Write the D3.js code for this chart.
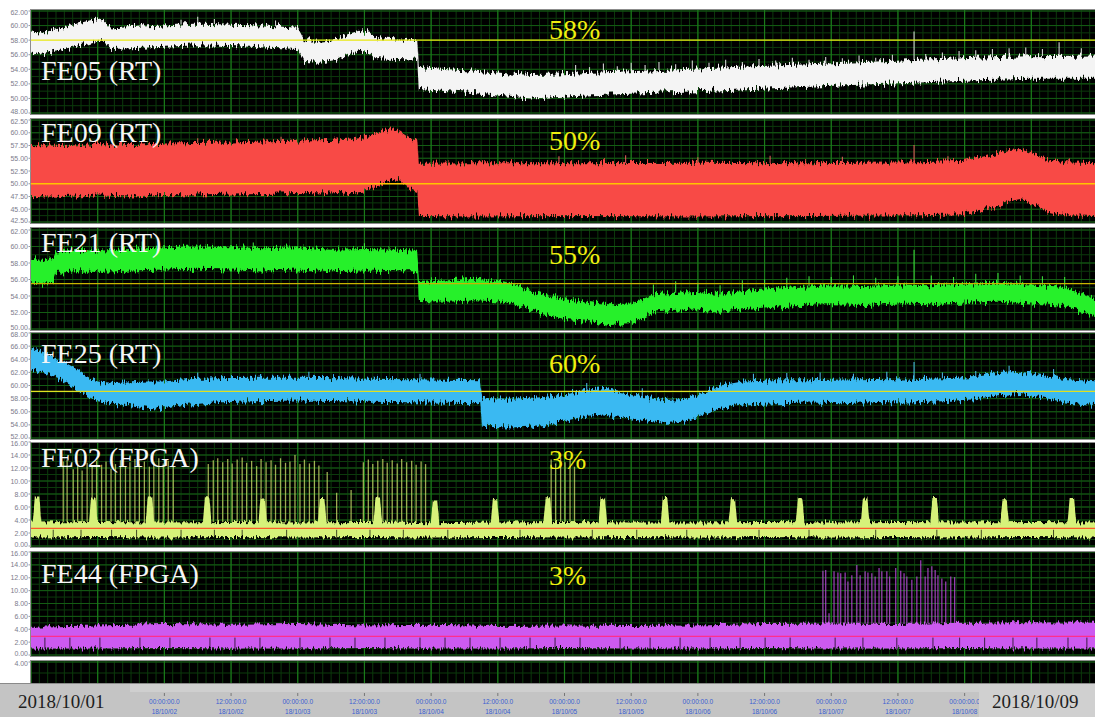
<!DOCTYPE html>
<html>
<head>
<meta charset="utf-8">
<script src="https://cdn.jsdelivr.net/npm/d3@7"></script>
<style>
  body { margin: 0; background: #fff; }
  svg { display: block; }
</style>
</head>
<body>
<svg width="1095" height="717"></svg>
<script>
// ---- data ----
const names = ["FE05 (RT)", "FE09 (RT)", "FE21 (RT)", "FE25 (RT)", "FE02 (FPGA)", "FE44 (FPGA)"];
const percents = ["58%", "50%", "55%", "60%", "3%", "3%"];
const refLevels = [58, 50, 55.5, 59.1, 2.7, 2.9];
const yDomains = [[48, 62], [42.5, 62.5], [50, 62], [52, 68], [0, 16], [0, 16], [0, 4]];
const tickSteps = [2, 2.5, 2, 2, 2, 2, 2];
const startDate = "2018/10/01";
const endDate = "2018/10/09";

// bands: [hour, low, high]
const fe05Band = [
  [0, 56.3, 59.2], [2, 56.0, 59.0], [4, 56.5, 59.4], [6, 56.8, 59.8], [8, 57.2, 60.2],
  [10, 57.5, 60.6], [12, 57.9, 61.0], [13, 57.8, 60.8], [14.5, 56.8, 59.6], [18, 56.9, 59.8],
  [24, 57.1, 60.0], [30, 57.3, 60.3], [36, 57.2, 60.1], [42, 57.0, 60.0], [48, 56.8, 59.7],
  [49.2, 55.0, 58.0], [52, 54.9, 57.9], [55, 55.3, 58.2], [57, 56.0, 58.8], [59, 56.6, 59.3],
  [61, 56.3, 59.0], [62, 55.5, 58.3], [66, 55.4, 58.1], [69.5, 55.3, 58.0], [69.8, 51.3, 54.3],
  [75, 51.0, 54.0], [80, 50.7, 53.8], [85, 50.3, 53.5], [90, 50.0, 53.2], [95, 50.2, 53.3],
  [100, 50.4, 53.5], [110, 50.7, 53.8], [120, 51.0, 54.1], [130, 51.3, 54.4], [140, 51.6, 54.7],
  [150, 51.9, 55.0], [160, 52.2, 55.3], [170, 52.5, 55.6], [180, 52.7, 55.8], [192, 52.7, 55.9]
];
const fe09Band = [
  [0, 47.6, 57.6], [6, 47.4, 57.4], [12, 47.7, 57.8], [18, 47.5, 57.6], [24, 47.8, 57.9],
  [30, 47.7, 58.0], [36, 47.9, 58.1], [42, 48.0, 58.3], [48, 48.2, 58.5], [54, 48.1, 58.6],
  [58, 48.4, 58.9], [61, 48.8, 59.5], [63, 49.8, 60.2], [65, 51.0, 60.7], [66.5, 50.6, 60.2],
  [68, 49.0, 59.0], [69.5, 48.4, 58.4], [69.8, 43.7, 53.9], [80, 43.6, 54.0], [100, 43.7, 54.0],
  [120, 43.6, 54.1], [140, 43.7, 54.0], [160, 43.8, 54.2], [168, 44.0, 54.5], [172, 45.0, 55.5],
  [176, 46.5, 56.6], [178, 47.0, 56.8], [180, 46.3, 56.0], [183, 44.5, 54.8], [186, 43.8, 54.2],
  [192, 43.7, 54.0]
];
const fe21Band = [
  [0, 55.6, 58.5], [2, 55.5, 58.4], [4, 55.6, 58.6], [4.5, 56.8, 59.4], [8, 57.0, 59.6],
  [12, 56.9, 59.5], [18, 57.1, 59.7], [24, 57.2, 59.9], [30, 57.3, 60.0], [36, 57.2, 59.9],
  [42, 57.1, 59.8], [48, 57.2, 59.9], [54, 57.0, 59.6], [60, 57.1, 59.7], [66, 57.0, 59.6],
  [69.5, 57.0, 59.5], [69.8, 53.4, 55.7], [75, 53.3, 55.9], [80, 53.5, 56.1], [85, 53.3, 55.8],
  [88, 52.8, 55.2], [92, 51.8, 54.2], [96, 51.2, 53.6], [100, 51.0, 53.3], [104, 50.6, 53.0],
  [108, 50.7, 53.1], [110, 51.2, 53.6], [112, 52.0, 54.2], [116, 52.2, 54.4], [120, 52.4, 54.5],
  [124, 52.1, 54.2], [128, 52.4, 54.6], [132, 52.6, 54.8], [138, 52.9, 55.1], [144, 53.0, 55.3],
  [150, 52.9, 55.2], [156, 53.1, 55.4], [162, 53.0, 55.3], [168, 53.2, 55.5], [174, 53.3, 55.6],
  [180, 53.1, 55.4], [186, 52.8, 55.1], [189, 52.0, 54.2], [192, 51.5, 53.5]
];
const fe25Band = [
  [0, 62.6, 65.8], [2, 62.0, 65.2], [4, 61.3, 64.4], [6, 60.6, 63.6], [8, 59.6, 62.6],
  [10, 58.4, 61.4], [12, 57.6, 60.6], [15, 57.2, 60.4], [18, 57.0, 60.5], [21, 56.6, 60.6],
  [24, 56.4, 60.6], [27, 57.0, 60.9], [33, 57.4, 61.1], [40, 57.6, 61.2], [48, 57.7, 61.2],
  [56, 57.6, 61.1], [64, 57.5, 61.0], [72, 57.4, 60.9], [80.8, 57.3, 60.8], [81.2, 53.7, 58.1],
  [86, 53.6, 58.0], [92, 53.8, 58.2], [97, 54.8, 58.8], [100, 55.4, 59.4], [103, 55.6, 59.6],
  [106, 55.2, 59.0], [110, 54.8, 58.4], [114, 54.3, 57.8], [118, 54.5, 58.0], [121, 55.6, 59.0],
  [124, 56.6, 60.0], [128, 57.1, 60.6], [134, 57.3, 60.8], [140, 57.4, 60.8], [146, 57.3, 60.9],
  [152, 57.5, 61.0], [158, 57.4, 60.9], [164, 57.6, 61.1], [170, 57.9, 61.3], [174, 58.5, 61.9],
  [178, 58.7, 62.1], [182, 58.2, 61.6], [186, 57.4, 61.0], [192, 57.0, 60.6]
];
const fe02Band = [
  [0, 1.3, 3.6], [12, 1.4, 3.7], [24, 1.3, 3.6], [36, 1.4, 3.7], [48, 1.3, 3.6], [60, 1.4, 3.7],
  [72, 1.3, 3.5], [84, 1.4, 3.6], [96, 1.3, 3.7], [108, 1.4, 3.6], [120, 1.3, 3.6], [132, 1.4, 3.7],
  [144, 1.3, 3.6], [156, 1.4, 3.7], [168, 1.3, 3.6], [180, 1.4, 3.7], [192, 1.3, 3.6]
];
const fe44Band = [
  [0, 1.0, 4.4], [12, 1.0, 4.6], [24, 1.1, 4.8], [36, 1.0, 4.7], [48, 1.0, 4.8], [60, 1.1, 4.6],
  [72, 1.0, 4.7], [84, 1.0, 4.5], [96, 1.1, 4.6], [108, 1.0, 4.5], [120, 1.0, 4.6], [132, 1.1, 4.8],
  [144, 1.0, 4.9], [156, 1.0, 4.8], [168, 1.1, 5.0], [180, 1.0, 5.1], [192, 1.0, 5.0]
];

// spikes: [hour, top]
const fe05Spikes = [
  [27, 60.8], [30, 61.2], [33, 60.9], [44, 60.7],
  [98, 54.6], [100.5, 54.3], [103, 54.8], [105.5, 54.4], [108, 54.9], [110.5, 54.6], [113, 55.0],
  [116, 54.7], [119, 55.2], [122, 54.9], [125, 55.3], [128, 55.0], [131, 55.4], [134, 55.2],
  [137, 55.6], [140, 55.3], [143, 55.7], [146, 55.5], [149, 55.9], [152, 55.6], [155, 56.0],
  [158.9, 59.2], [161, 56.1], [164, 56.3], [167, 56.5], [170, 56.6], [173, 56.8], [176, 56.9],
  [179, 57.0], [182, 56.8], [185, 57.7], [189, 56.9]
];
const fe09Spikes = [
  [30, 58.9], [45, 59.2], [60, 59.8], [95, 55.4], [107, 55.6], [120, 55.2], [133, 55.5],
  [146, 55.3], [158.9, 57.6], [165, 55.4]
];
const fe21Spikes = [
  [20, 60.6], [40, 60.5], [60, 60.4], [112, 55.4], [116, 55.8], [120, 55.6], [124, 55.3],
  [128, 55.9], [132, 56.0], [136, 56.2], [140, 56.4], [144, 56.3], [148, 56.5], [152, 56.2],
  [156, 56.4], [158.9, 59.6], [162, 56.5], [166, 56.3], [170, 56.7], [174, 56.8], [178, 56.5],
  [182, 56.4], [186, 56.3]
];
const fe25Spikes = [
  [30, 62.0], [50, 62.1], [70, 61.8], [100, 60.4], [110, 59.6], [130, 61.8], [136, 61.9],
  [142, 62.0], [148, 61.8], [154, 62.1], [158.9, 63.6], [164, 62.0], [170, 62.2], [176, 63.0],
  [184, 62.5]
];
const fe02Spikes = [
  [5.8, 13.0], [6.5, 13.3], [7.6, 11.8], [8.4, 12.4], [9.2, 11.6], [10.1, 12.8], [11.0, 12.2],
  [11.8, 13.1], [12.7, 12.5], [13.5, 13.0], [14.4, 11.9], [15.2, 12.6], [16.1, 13.2], [17.0, 12.3],
  [17.8, 12.9], [18.7, 13.4], [19.5, 12.6], [20.4, 13.0], [21.3, 12.2], [22.1, 12.9], [23.0, 13.5],
  [23.8, 12.7], [24.7, 13.1], [25.6, 12.4],
  [31.9, 12.6], [32.8, 13.2], [33.6, 13.5], [34.5, 12.9], [35.4, 13.4], [36.2, 12.7], [37.1, 13.3],
  [38.0, 13.6], [38.8, 12.8], [39.7, 13.1], [40.6, 12.3], [41.4, 13.4], [42.3, 12.9], [43.2, 13.2],
  [44.0, 12.5], [44.9, 13.5], [45.8, 12.8], [46.6, 13.0], [47.5, 14.0], [48.4, 12.6], [49.2, 13.3],
  [50.1, 12.7], [51.0, 13.1], [51.8, 12.4],
  [53.3, 11.4], [55.0, 8.2], [57.6, 8.6],
  [59.8, 12.9], [60.7, 13.3], [61.5, 12.6], [62.4, 13.1], [63.3, 13.4], [64.1, 12.8], [65.0, 13.2],
  [65.9, 12.7], [66.7, 13.4], [67.6, 12.9], [68.5, 13.1], [69.3, 12.5], [70.2, 13.0], [71.0, 12.6],
  [93.6, 13.3], [94.4, 12.7], [95.3, 13.6], [96.1, 12.9], [97.0, 13.4], [97.8, 12.2]
];
const fe44Spikes = [
  [142.5, 13.1], [143.0, 13.2], [143.6, 6.5], [144.5, 13.0], [145.2, 12.8], [145.7, 12.7],
  [146.5, 12.8], [147.0, 11.4], [147.7, 12.4], [148.6, 14.0], [149.2, 12.4], [150.1, 13.0],
  [150.6, 12.8], [151.3, 12.7], [151.9, 12.2], [152.6, 13.5], [153.1, 13.0], [154.0, 13.0],
  [154.5, 12.2], [155.6, 13.5], [156.5, 13.1], [157.1, 12.7], [157.6, 12.2], [158.5, 11.7],
  [159.4, 12.2], [160.1, 14.7], [160.9, 12.2], [161.4, 13.5], [162.1, 13.8], [162.7, 13.2],
  [163.2, 12.4], [163.9, 11.9], [164.6, 11.4], [165.5, 12.2], [166.2, 12.1]
];

// wide pulses of FE02: [hour, top]
const fe02Pulses = [
  [1.1, 7.6], [11.2, 7.3], [21.4, 7.6], [31.7, 7.5], [41.7, 7.3], [52.4, 7.4], [62.4, 7.6],
  [72.7, 7.0], [83.5, 7.2], [93.0, 7.5], [102.9, 7.3], [114.1, 7.4], [126.3, 7.2], [138.4, 7.5],
  [150.1, 7.3], [162.6, 7.4], [175.2, 7.2], [187.3, 7.4]
];
// dark dropouts inside the bands: hours
const fe02Gaps = [4, 9, 14.5, 19, 27, 33, 38, 46, 55, 61, 67, 75, 88, 101, 109, 118, 131, 140, 152, 163, 171, 184];
const fe44Gaps = [
  2.5, 7.0, 12.4, 19.6, 25.0, 32.2, 36.7, 41.2, 48.4, 53.8, 58.3, 63.7, 70.0, 74.5, 79.0, 84.4,
  89.8, 94.3, 98.8, 106.0, 111.4, 116.8, 122.2, 127.6, 132.1, 136.6, 144.7, 149.7, 155.8, 162.3,
  167.1, 171.6, 176.7, 181.0, 186.6, 190.0
];

const colors = ["#f4f4f4", "#f84a46", "#26f02a", "#3ab9f2", "#d6f27a", "#cc5af0"];
const refColors = ["#e8e810", "#ffc400", "#c8b400", "#e0e020", "#ff5a28", "#ff2e8c"];
const spikeColors = ["#e8e8e8", "#f06060", "#40f040", "#50c4f4", "#c4d466", "#b848d8"];

// ---- layout ----
const W = 1095, H = 717;
const layout = [
  { top: 11, bottom: 113, boxTop: 10, boxBottom: 114, labelY: 80, pctY: 39 },
  { top: 120, bottom: 222, boxTop: 119, boxBottom: 223, labelY: 142, pctY: 150 },
  { top: 230, bottom: 329, boxTop: 228, boxBottom: 330, labelY: 252, pctY: 264 },
  { top: 333, bottom: 438, boxTop: 333, boxBottom: 439, labelY: 363, pctY: 373 },
  { top: 442, bottom: 546, boxTop: 443, boxBottom: 547, labelY: 467, pctY: 469 },
  { top: 552, bottom: 655, boxTop: 552, boxBottom: 656, labelY: 583, pctY: 585 },
  { top: 662, bottom: 706, boxTop: 661, boxBottom: 683, labelY: null, pctY: null }
];

const series = names.map((n, i) => ({
  name: n, pct: percents[i], ref: refLevels[i], color: colors[i],
  band: [fe05Band, fe09Band, fe21Band, fe25Band, fe02Band, fe44Band][i],
  spikes: [fe05Spikes, fe09Spikes, fe21Spikes, fe25Spikes, fe02Spikes, fe44Spikes][i],
  pulses: i === 4 ? fe02Pulses : [],
  gaps: i === 4 ? fe02Gaps : i === 5 ? fe44Gaps : []
}));

const start = new Date(2018, 9, 1);
const end = new Date(2018, 9, 9);
const at = h => new Date(start.getTime() + h * 36e5);

const x = d3.scaleTime().domain([start, end]).range([31, 1098]);

const svg = d3.select("svg");
const defs = svg.append("defs");

// noise texture for the dense sample bands
function fuzzFilter(id, scale) {
  const f = defs.append("filter").attr("id", id)
    .attr("filterUnits", "userSpaceOnUse")
    .attr("x", 0).attr("y", 0).attr("width", W).attr("height", H)
    .attr("color-interpolation-filters", "sRGB");
  f.append("feTurbulence").attr("type", "fractalNoise")
    .attr("baseFrequency", "0.55 0.06").attr("numOctaves", 2).attr("seed", 7).attr("result", "n");
  f.append("feColorMatrix").attr("in", "n").attr("type", "matrix")
    .attr("values", "0 0 0 0 0.5  0 1 0 0 0  0 0 0 0 0  0 0 0 0 1").attr("result", "m");
  f.append("feDisplacementMap").attr("in", "SourceGraphic").attr("in2", "m")
    .attr("scale", scale).attr("xChannelSelector", "R").attr("yChannelSelector", "G");
}
fuzzFilter("fuzzRT", 13);
fuzzFilter("fuzzFP", 9);

const majorTimes = d3.timeHour.range(start, d3.timeHour.offset(end, 1), 12);
const minorTimes = d3.timeMinute.range(start, d3.timeHour.offset(end, 1), 90);

function bandHigh(band, h) {
  const i = d3.bisector(d => d[0]).left(band, h);
  if (i <= 0) return band[0][2];
  if (i >= band.length) return band[band.length - 1][2];
  const a = band[i - 1], b = band[i];
  const t = (h - a[0]) / (b[0] - a[0]);
  return a[2] + t * (b[2] - a[2]);
}

layout.forEach((L, i) => {
  const y = d3.scaleLinear().domain(yDomains[i]).range([L.bottom, L.top]);
  const g = svg.append("g");

  defs.append("clipPath").attr("id", "clip" + i).append("rect")
    .attr("x", 31).attr("y", L.boxTop).attr("width", W - 31).attr("height", L.boxBottom - L.boxTop);

  g.append("rect")
    .attr("x", 30.5).attr("y", L.boxTop - 0.5)
    .attr("width", W - 30).attr("height", L.boxBottom - L.boxTop + 1)
    .attr("fill", "#000").attr("stroke", "#8c8c8c");

  const inner = g.append("g").attr("clip-path", `url(#clip${i})`);

  // grid
  const [d0, d1] = yDomains[i];
  const step = tickSteps[i];
  const majorY = d3.range(d0, d1 + step / 2, step);
  const minorY = d3.range(d0, d1 + step / 4, step / 2);
  inner.selectAll(".hmin").data(minorY).join("line")
    .attr("x1", 31).attr("x2", W).attr("y1", d => y(d)).attr("y2", d => y(d))
    .attr("stroke", "#0c3a0c").attr("stroke-width", 1);
  inner.selectAll(".vmin").data(minorTimes).join("line")
    .attr("x1", d => x(d)).attr("x2", d => x(d)).attr("y1", L.boxTop).attr("y2", L.boxBottom)
    .attr("stroke", "#0c3a0c").attr("stroke-width", 1);
  inner.selectAll(".hmaj").data(majorY).join("line")
    .attr("x1", 31).attr("x2", W).attr("y1", d => y(d)).attr("y2", d => y(d))
    .attr("stroke", "#145c14").attr("stroke-width", 1);
  inner.selectAll(".vmaj").data(majorTimes).join("line")
    .attr("x1", d => x(d)).attr("x2", d => x(d)).attr("y1", L.boxTop).attr("y2", L.boxBottom)
    .attr("stroke", "#1a7a1a").attr("stroke-width", 1.2);

  // y tick labels (end labels nudged inward so neighbouring panels don't collide)
  const labelTicks = i === 6 ? [4] : majorY;
  const nudge = d => (d === d1 ? 1.6 : d === d0 ? -1.6 : 0);
  g.selectAll(".yt").data(labelTicks).join("text")
    .attr("x", 28).attr("y", d => y(d) + 2.5 + nudge(d))
    .attr("text-anchor", "end")
    .attr("font-family", "Liberation Sans, Arial, sans-serif")
    .attr("font-size", 7).attr("fill", "#7c7c8c")
    .text(d => d3.format(".2f")(d));
  g.selectAll(".ytk").data(labelTicks).join("line")
    .attr("x1", 28.5).attr("x2", 31).attr("y1", d => y(d)).attr("y2", d => y(d))
    .attr("stroke", "#9a9a9a");

  const s = series[i];
  if (!s) return;

  // spikes behind the band
  inner.selectAll(".spk").data(s.spikes).join("line")
    .attr("x1", d => x(at(d[0]))).attr("x2", d => x(at(d[0])))
    .attr("y1", d => y(bandHigh(s.band, d[0])))
    .attr("y2", d => y(d[1]))
    .attr("stroke", spikeColors[i])
    .attr("stroke-width", i >= 4 ? 1.3 : 1.1)
    .attr("stroke-opacity", i >= 4 ? 0.8 : 0.9);

  const fz = inner.append("g").attr("filter", i >= 4 ? "url(#fuzzFP)" : "url(#fuzzRT)");
  const area = d3.area()
    .x(d => x(at(d[0])))
    .y0(d => y(d[1]))
    .y1(d => y(d[2]));
  fz.append("path").datum(s.band).attr("d", area).attr("fill", s.color);

  // wide pulses
  fz.selectAll(".pulse").data(s.pulses).join("path")
    .attr("fill", s.color)
    .attr("d", d => {
      const base = y(bandHigh(s.band, d[0]) - 0.3);
      const top = y(d[1]);
      const xa = x(at(d[0] - 0.8)), xb = x(at(d[0] - 0.4)), xc = x(at(d[0] + 0.4)), xd = x(at(d[0] + 0.8));
      return `M${xa},${base}L${xb},${top}L${xc},${top}L${xd},${base}Z`;
    });

  // dropouts
  inner.selectAll(".gap").data(s.gaps).join("line")
    .attr("x1", d => x(at(d))).attr("x2", d => x(at(d)))
    .attr("y1", y(yDomains[i][0] + 0.9)).attr("y2", y(s.ref - 0.2))
    .attr("stroke", "#000").attr("stroke-width", 1).attr("stroke-opacity", 0.7);

  // reference level
  inner.append("line")
    .attr("x1", 31).attr("x2", W).attr("y1", y(s.ref)).attr("y2", y(s.ref))
    .attr("stroke", refColors[i]).attr("stroke-width", 1.3);

  // labels
  g.append("text").attr("x", 41).attr("y", L.labelY)
    .attr("font-family", "Liberation Serif, Times New Roman, serif")
    .attr("font-size", 28).attr("fill", "#f6f6f6").text(s.name);
  g.append("text").attr("x", 549).attr("y", L.pctY)
    .attr("font-family", "Liberation Serif, Times New Roman, serif")
    .attr("font-size", 28).attr("fill", "#f0ee10").text(s.pct);
});

// ---- footer / time axis ----
const foot = svg.append("g");
foot.append("rect").attr("x", 0).attr("y", 683).attr("width", W).attr("height", H - 683).attr("fill", "#c4c4c4");
foot.append("rect").attr("x", 130).attr("y", 684).attr("width", 850).attr("height", 8).attr("fill", "#cfcfcf");
foot.append("line").attr("x1", 0).attr("x2", W).attr("y1", 683.5).attr("y2", 683.5).attr("stroke", "#8a8a8a");

const tickTimes = d3.timeHour.range(new Date(2018, 9, 2), new Date(2018, 9, 8, 1), 12);
const fmtTime = d3.timeFormat("%H:%M:%S.0");
const fmtDay = d3.timeFormat("%y/%m/%d");
const ticks = foot.selectAll(".xt").data(tickTimes).join("g")
  .attr("transform", d => `translate(${x(d)},0)`);
ticks.append("line").attr("y1", 693).attr("y2", 696).attr("stroke", "#777");
ticks.append("text").attr("y", 704).text(d => fmtTime(d));
ticks.append("text").attr("y", 714).text(d => fmtDay(d));
ticks.selectAll("text")
  .attr("text-anchor", "middle")
  .attr("font-family", "Liberation Sans, Arial, sans-serif")
  .attr("font-size", 6.5).attr("fill", "#3a5ed2");

// date boxes
foot.append("rect").attr("x", 979).attr("y", 684).attr("width", W - 979).attr("height", H - 684).attr("fill", "#d0d0d0");
foot.append("text").attr("x", 18).attr("y", 708)
  .attr("font-family", "Liberation Serif, Times New Roman, serif")
  .attr("font-size", 19).attr("fill", "#1e1e1e").text(startDate);
foot.append("text").attr("x", 992).attr("y", 708)
  .attr("font-family", "Liberation Serif, Times New Roman, serif")
  .attr("font-size", 19).attr("fill", "#1e1e1e").text(endDate);
</script>
</body>
</html>
